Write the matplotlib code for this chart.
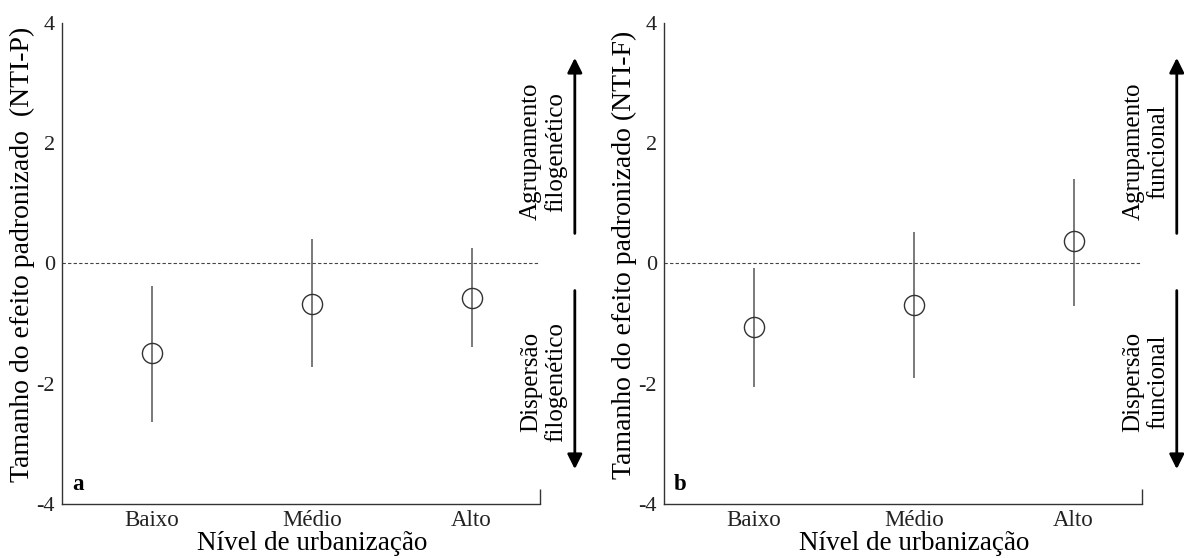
import numpy as np
import matplotlib
matplotlib.use("Agg")
import matplotlib.pyplot as plt

plt.rcParams['font.family'] = ['Liberation Serif', 'DejaVu Serif']
plt.rcParams['axes.unicode_minus'] = False

niveis = ['Baixo', 'Médio', 'Alto']

# NTI-P (filogenético)
nti_p = [-1.49, -0.67, -0.57]
nti_p_low = [-2.63, -1.72, -1.39]
nti_p_high = [-0.37, 0.40, 0.25]

# NTI-F (funcional)
nti_f = [-1.06, -0.69, 0.37]
nti_f_low = [-2.05, -1.91, -0.70]
nti_f_high = [-0.07, 0.53, 1.41]

ylabels = ['Tamanho do efeito padronizado  (NTI-P)',
           'Tamanho do efeito padronizado (NTI-F)']
up_texts = ['Agrupamento\nfilogenético', 'Agrupamento\nfuncional']
down_texts = ['Dispersão\nfilogenético', 'Dispersão\nfuncional']
letters = ['a', 'b']

fig = plt.figure(figsize=(11.84, 5.58), dpi=100)
lefts = [0.0524, 0.5608]
width = 0.404
bottom, height = 0.0968, 0.862

series = [(nti_p, nti_p_low, nti_p_high), (nti_f, nti_f_low, nti_f_high)]
edge = '#333333'
xmin, xmax = 0.4375, 3.43

for i, (mean, low, high) in enumerate(series):
    ax = fig.add_axes([lefts[i], bottom, width, height])
    x = np.arange(1, len(niveis) + 1)
    mean = np.array(mean)
    yerr = [mean - np.array(low), np.array(high) - mean]

    ax.axhline(0, color='#444444', lw=0.8, ls=(0, (3, 2)), zorder=1)
    ax.errorbar(x, mean, yerr=yerr, fmt='none', ecolor='#555555',
                elinewidth=1.1, capsize=0, zorder=2)
    # open circles, the bar shows through
    ax.plot(x, mean, 'o', ms=14.5, mfc='none', mec='#333333', mew=1.0,
            zorder=3)

    ax.set_xlim(xmin, xmax)
    ax.set_ylim(-4, 4)
    ax.set_xticks(x)
    ax.set_xticklabels(niveis, fontsize=16.5)
    ax.set_yticks([-4, -2, 0, 2, 4])
    ax.set_yticklabels(['-4', '-2', '0', '2', '4'], fontsize=16)
    ax.tick_params(which='major', length=0, colors='#222222')
    ax.tick_params(axis='x', which='major', pad=4)
    ax.tick_params(axis='y', which='major', pad=5)
    # end caps on the axes
    ax.set_yticks([4], minor=True)
    ax.set_xticks([xmax], minor=True)
    ax.tick_params(which='minor', direction='in', length=10.5,
                   width=1.0, color=edge)

    for side in ['top', 'right']:
        ax.spines[side].set_visible(False)
    for side in ['left', 'bottom']:
        ax.spines[side].set_color(edge)
        ax.spines[side].set_linewidth(1.0)

    ax.set_ylabel(ylabels[i], fontsize=20)
    ax.yaxis.set_label_coords(-0.056, 0.518)
    ax.set_xlabel('Nível de urbanização', fontsize=19.5)
    ax.xaxis.set_label_coords((2 - xmin) / (xmax - xmin), -0.057)
    ax.text(0.021, 0.019, letters[i], transform=ax.transAxes,
            fontsize=16.5, fontweight='bold', ha='left', va='bottom')

    # direction arrows on the right
    ax.annotate('', xy=(1.072, 3.42), xytext=(1.072, 0.5),
                xycoords=('axes fraction', 'data'),
                arrowprops=dict(arrowstyle='-|>', color='black', lw=2,
                                mutation_scale=22, shrinkA=0, shrinkB=0),
                annotation_clip=False)
    ax.annotate('', xy=(1.072, -3.42), xytext=(1.072, -0.45),
                xycoords=('axes fraction', 'data'),
                arrowprops=dict(arrowstyle='-|>', color='black', lw=2,
                                mutation_scale=22, shrinkA=0, shrinkB=0),
                annotation_clip=False)
    ax.text(1.007, 1.86, up_texts[i], rotation=90, fontsize=18,
            ha='center', va='center', multialignment='center',
            linespacing=1.15, transform=ax.get_yaxis_transform())
    ax.text(1.007, -1.97, down_texts[i], rotation=90, fontsize=18,
            ha='center', va='center', multialignment='center',
            linespacing=1.15, transform=ax.get_yaxis_transform())

fig.savefig('out.png', dpi=100)
